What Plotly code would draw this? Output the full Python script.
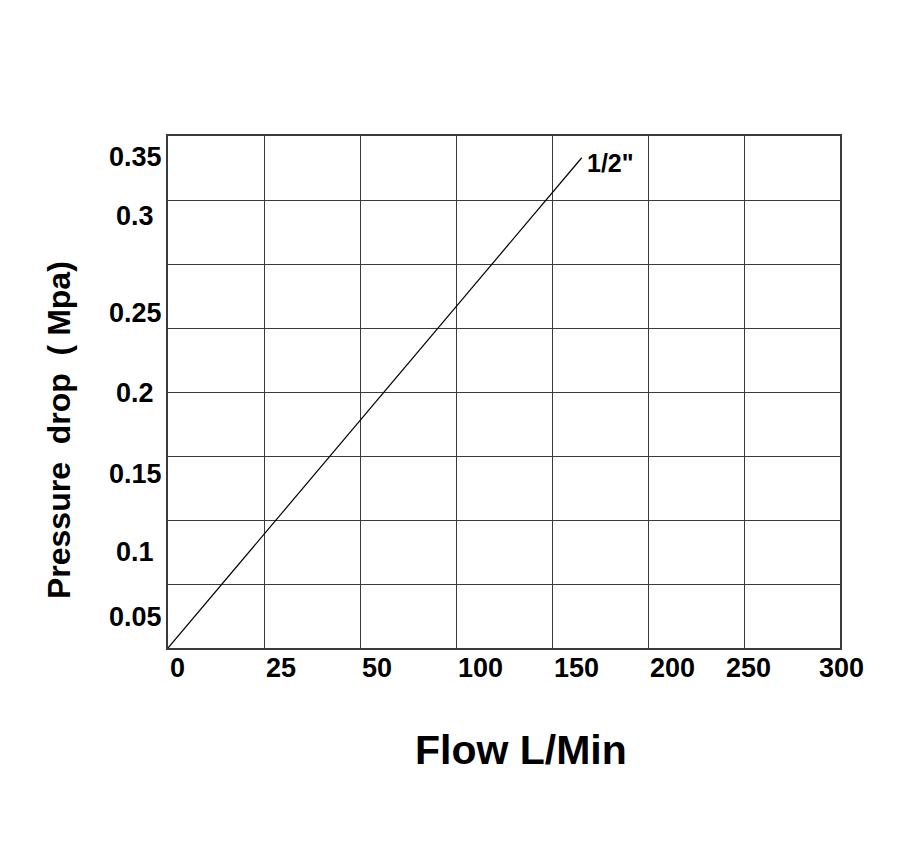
import plotly.graph_objects as go

# Tick labels as printed on the chart
x_tick_labels = ["0", "25", "50", "100", "150", "200", "250", "300"]
y_tick_labels = ["0.35", "0.3", "0.25", "0.2", "0.15", "0.1", "0.05"]

# Curve "1/2\"" expressed in chart grid units (column / row of the printed grid)
series_name = '1/2"'
flow_grid = [0.0, 4.31]
drop_grid = [0.0, 7.66]

# Layout positions of labels in grid units
N_COLS = 7
x_label_pos = [0, 1, 2, 3, 4, 5, 6.05, 7.02]
x_label_anchor = ["left"] * 6 + ["center", "center"]
y_label_pos = [7.67, 6.75, 5.23, 3.98, 2.72, 1.5, 0.48]

FONT = "Liberation Sans, Arial, sans-serif"
GRID = "#3a3a3a"

fig = go.Figure()
fig.add_trace(go.Scatter(x=flow_grid, y=drop_grid, mode="lines",
                         line=dict(color="black", width=1.2),
                         showlegend=False, hoverinfo="skip"))

ann = []
for lab, p, a in zip(x_tick_labels, x_label_pos, x_label_anchor):
    ann.append(dict(x=p / N_COLS, y=-0.04, xref="paper", yref="paper", text="<b>%s</b>" % lab,
                    showarrow=False, xanchor=a, yanchor="middle",
                    font=dict(family=FONT, size=27, color="black")))
for lab, p in zip(y_tick_labels, y_label_pos):
    ann.append(dict(x=-0.049, y=p, xref="paper", yref="y", text="<b>%s</b>" % lab,
                    showarrow=False, xanchor="center", yanchor="middle",
                    font=dict(family=FONT, size=27, color="black")))
ann.append(dict(x=4.34, y=7.58, xref="x", yref="y", text="<b>%s</b>" % series_name,
                showarrow=False, xanchor="left", yanchor="middle",
                font=dict(family=FONT, size=25, color="black")))
ann.append(dict(x=0.525, y=-0.199, xref="paper", yref="paper", text="<b>Flow L/Min</b>",
                showarrow=False, xanchor="center", yanchor="middle",
                font=dict(family=FONT, size=41, color="black")))
ann.append(dict(x=-0.162, y=0.426, xref="paper", yref="paper",
                text="<b>Pressure  drop  ( Mpa)</b>", textangle=-90,
                showarrow=False, xanchor="center", yanchor="middle",
                font=dict(family=FONT, size=32, color="black")))

fig.update_layout(
    width=892, height=842,
    margin=dict(l=160, r=60, t=128, b=202),
    paper_bgcolor="white", plot_bgcolor="white",
    annotations=ann,
    xaxis=dict(range=[0, 7], dtick=1, tick0=0, showgrid=True, gridcolor=GRID, gridwidth=1.3,
               showticklabels=False, ticks="", zeroline=False,
               showline=True, linecolor=GRID, linewidth=1.5, mirror=True, fixedrange=True),
    yaxis=dict(range=[0, 8], dtick=1, tick0=0, showgrid=True, gridcolor=GRID, gridwidth=1.3,
               showticklabels=False, ticks="", zeroline=False,
               showline=True, linecolor=GRID, linewidth=1.5, mirror=True, fixedrange=True),
)

fig.write_html("out.html")
